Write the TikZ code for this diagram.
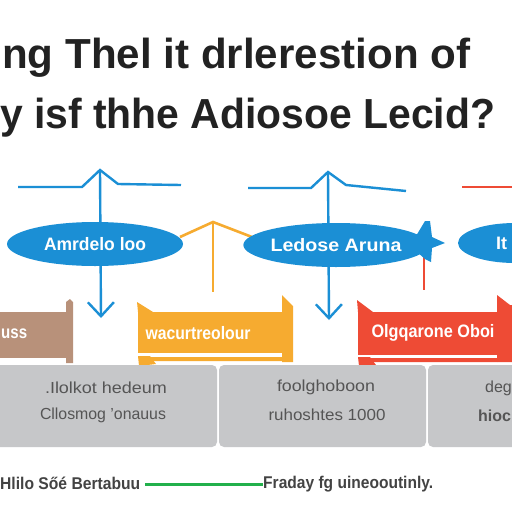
\documentclass[tikz,border=0pt]{standalone}
\usepackage{fontspec}
\usepackage{graphicx}
\setmainfont{Liberation Sans}
\usetikzlibrary{arrows.meta,shapes.geometric}
\definecolor{cblue}{HTML}{1B8FD5}
\definecolor{corange}{HTML}{F6AB30}
\definecolor{cred}{HTML}{EE4B35}
\definecolor{cbrown}{HTML}{B8917A}
\definecolor{cgray}{HTML}{C6C7C9}
\definecolor{cgreen}{HTML}{22B04B}
\definecolor{ctitle}{HTML}{222222}
\definecolor{cgtext}{HTML}{555555}
\newlength\fitlen
\newcommand\fitw[2]{\settowidth\fitlen{#2}\scalebox{\fpeval{(#1)/(\fitlen)}}[1]{#2}}
\begin{document}
\begin{tikzpicture}[x=1pt,y=-1pt,
  titletext/.style={font=\fontsize{42}{42}\selectfont\bfseries, text=ctitle, inner sep=0pt, anchor=base west},
  blueline/.style={draw=cblue, line width=2.4pt, line join=miter},
  orangeline/.style={draw=corange, line width=2.6pt},
  redline/.style={draw=cred, line width=2.6pt},
  ellnode/.style={ellipse, fill=cblue, inner sep=0pt, text=white, font=\fontsize{18}{18}\selectfont\bfseries},
  bannertext/.style={text=white, font=\fontsize{18}{18}\selectfont\bfseries, inner sep=0pt},
  graybox/.style={fill=cgray, rounded corners=5pt},
  graytext/.style={text=cgtext, font=\fontsize{16}{16}\selectfont, inner sep=0pt},
  foottext/.style={text=ctitle!85, font=\fontsize{17}{17}\selectfont\bfseries, inner sep=0pt},
  barb/.style={-{Straight Barb[length=14pt,width=26pt,line width=2.4pt]}}
]
\useasboundingbox[fill=white] (0,0) rectangle (512,512);

% title
\node[titletext] (t1) at (2,68) {\fitw{468pt}{ng Thel it drlerestion of}};
\node[titletext] (t2) at (0,128) {\fitw{495pt}{y isf thhe Adiosoe Lecid?}};

% connector coordinates
\coordinate (b1l) at (18,187); \coordinate (b1a) at (82,187);
\coordinate (b1p) at (100,170); \coordinate (b1b) at (118,184);
\coordinate (b1r) at (181,185); \coordinate (b1t) at (101,318);
\coordinate (b2l) at (248,188); \coordinate (b2a) at (311,188);
\coordinate (b2p) at (328,172); \coordinate (b2b) at (346,185);
\coordinate (b2r) at (406,191); \coordinate (b2t) at (329,320);
\coordinate (o1) at (180,237); \coordinate (op) at (213,222);
\coordinate (o2) at (252,237); \coordinate (ob) at (213,292);
\coordinate (r1) at (424,256); \coordinate (r2) at (424,290);
\coordinate (rt1) at (462,187); \coordinate (rt2) at (512,187);

\draw[blueline] (b1l) -- (b1a) -- (b1p) -- (b1b) -- (b1r);
\draw[blueline, barb] (b1p) -- (b1t);
\draw[blueline] (b2l) -- (b2a) -- (b2p) -- (b2b) -- (b2r);
\draw[blueline, barb] (b2p) -- (b2t);
\draw[orangeline] (o1) -- (op) -- (o2);
\draw[orangeline] (op) -- (ob);
\draw[redline] (r1) -- (r2);
\draw[redline] (rt1) -- (rt2);

% ellipses
\node[ellnode, minimum width=176pt, minimum height=44pt] (e1) at (95,244) {\fitw{102pt}{Amrdelo loo}};
\fill[cblue] (416,236) -- (425,221) -- (430,221) -- (432,237) -- (445,243) -- (432,248) -- (431,262) -- (425,259) -- (416,251) -- cycle;
\node[ellnode, minimum width=174pt, minimum height=44pt] (e2) at (336,245) {\fitw{131pt}{Ledose Aruna}};
\node[ellnode, minimum width=114pt, minimum height=40pt] (e3) at (515,243) {};
\node[bannertext, anchor=west] (e3t) at (496,243) {It};

% banners
\fill[cbrown] (0,312) rectangle (66,358);
\fill[cbrown] (66,302) -- (70,299) -- (73,302) -- (73,363) -- (66,363) -- cycle;
\node[bannertext, anchor=west] (bt1) at (1,334) {\fitw{26pt}{uss}};

\fill[corange] (138,312) rectangle (283,353);
\fill[corange] (137,302) -- (153,312) -- (138,312) -- cycle;
\fill[corange] (282,295) -- (293,306) -- (293,362) -- (282,362) -- cycle;
\fill[corange] (138,356) -- (150,356) -- (156,364) -- (139,366) -- cycle;
\fill[corange] (150,357) -- (282,357) -- (282,361) -- (153,361) -- cycle;
\node[bannertext] (bt2) at (198,333) {\fitw{105pt}{wacurtreolour}};

\fill[cred] (358,312) rectangle (500,355);
\fill[cred] (357,300) -- (373,312) -- (358,312) -- cycle;
\fill[cred] (497,295) -- (510,305) -- (512,305) -- (512,362) -- (497,362) -- cycle;
\fill[cred] (358,357) -- (370,357) -- (376,365) -- (359,366) -- cycle;
\fill[cred] (370,358) -- (497,358) -- (497,362) -- (373,362) -- cycle;
\node[bannertext] (bt3) at (433,333) {\fitw{123pt}{Olgqarone Oboi}};

% gray boxes
\path[graybox] (-10,365) rectangle (217,447);
\path[graybox] (219,365) rectangle (426,447);
\path[graybox] (428,365) rectangle (530,447);
\node[graytext] (g11) at (106,388) {\fitw{122pt}{.Ilolkot hedeum}};
\node[graytext] (g12) at (103,415) {\fitw{126pt}{Cllosmog 'onauus}};
\node[graytext] (g21) at (326,387) {\fitw{98pt}{foolghoboon}};
\node[graytext] (g22) at (327,415) {\fitw{117pt}{ruhoshtes 1000}};
\node[graytext, anchor=west] (g31) at (485,388) {deg};
\node[graytext, anchor=west] (g32) at (478,416) {\bfseries hioc};

% footer
\node[foottext, anchor=west] (f1) at (0,483) {\fitw{140pt}{Hlilo Sőé Bertabuu}};
\node[foottext, anchor=west] (f2) at (263,484) {\fitw{170pt}{Fraday fg uineooutinly.}};
\draw[draw=cgreen, line width=3pt] (f1.east) ++(5,1) coordinate (gl) -- (f2.west |- gl);
\end{tikzpicture}
\end{document}
